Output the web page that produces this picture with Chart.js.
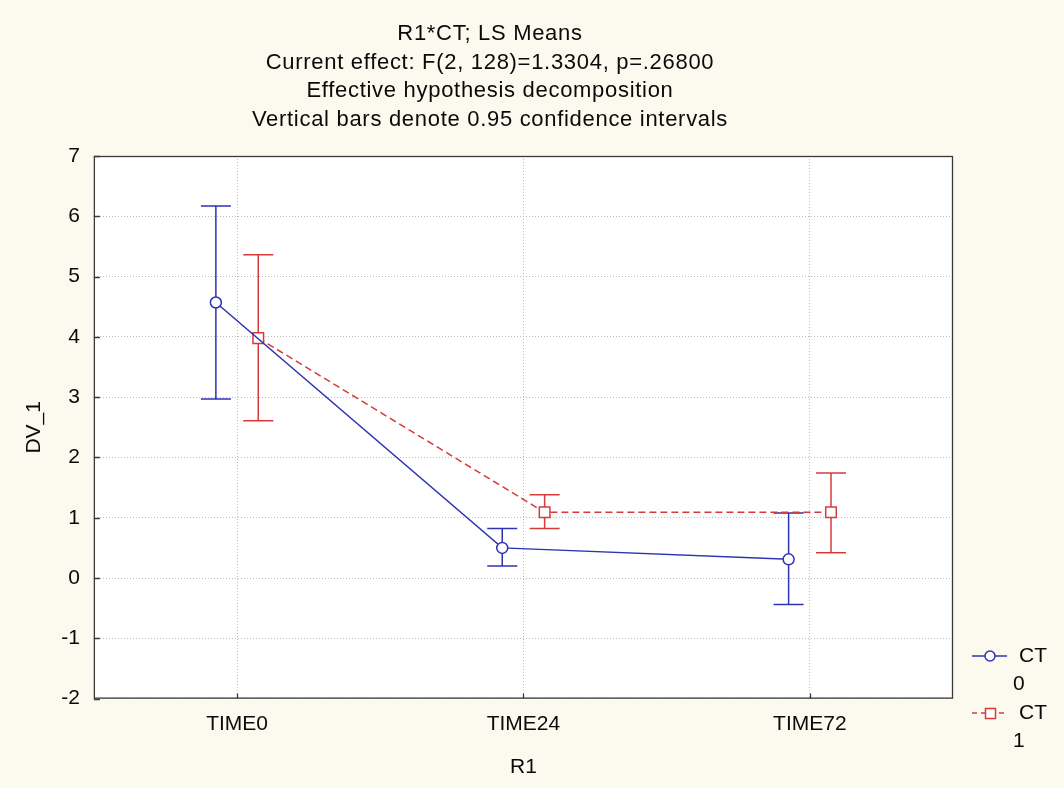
<!DOCTYPE html>
<html>
<head>
<meta charset="utf-8">
<script src="https://cdn.jsdelivr.net/npm/chart.js@4.4.1/dist/chart.umd.min.js"></script>
<style>
  html, body { margin: 0; padding: 0; background: #fcf9ee; }
  #wrap { width: 1064px; height: 788px; }
</style>
</head>
<body>
<div id="wrap"><canvas id="lsMeans" width="1064" height="788"></canvas></div>
<script>
const categories = ['TIME0', 'TIME24', 'TIME72'];
const yTicks = [-2, -1, 0, 1, 2, 3, 4, 5, 6, 7];

// CT = 0
const ct0Means = [4.57, 0.50, 0.31];
const ct0Lower = [2.97, 0.20, -0.44];
const ct0Upper = [6.17, 0.82, 1.08];

// CT = 1
const ct1Means = [3.98, 1.09, 1.09];
const ct1Lower = [2.61, 0.82, 0.42];
const ct1Upper = [5.36, 1.38, 1.74];

const titleLines = [
    'R1*CT; LS Means',
    'Current effect: F(2, 128)=1.3304, p=.26800',
    'Effective hypothesis decomposition',
    'Vertical bars denote 0.95 confidence intervals'
];

const BLUE = '#2c34b2';
const RED = '#d83a3a';
const FONT = "'Liberation Sans', Arial, sans-serif";
const DODGE = 0.074;

function toPoints(means, shift) {
    return means.map((m, i) => ({ x: i + shift, y: m }));
}

const datasets = [
    {
        label: 'CT 0',
        data: toPoints(ct0Means, -DODGE),
        lower: ct0Lower,
        upper: ct0Upper,
        borderColor: BLUE,
        borderWidth: 1.5,
        pointStyle: 'circle',
        pointRadius: 5.5,
        pointBackgroundColor: '#ffffff',
        pointBorderColor: BLUE,
        pointBorderWidth: 1.5,
        showLine: true,
        tension: 0
    },
    {
        label: 'CT 1',
        data: toPoints(ct1Means, DODGE),
        lower: ct1Lower,
        upper: ct1Upper,
        borderColor: RED,
        borderWidth: 1.5,
        borderDash: [7, 4],
        pointStyle: 'rect',
        pointRadius: 7.5,
        pointBackgroundColor: '#ffffff',
        pointBorderColor: RED,
        pointBorderWidth: 1.5,
        showLine: true,
        tension: 0
    }
];

// white plot area, whiskers under the markers
const plotDecor = {
    id: 'plotDecor',
    beforeDraw(chart) {
        const { ctx, chartArea: a } = chart;
        ctx.save();
        ctx.fillStyle = '#ffffff';
        ctx.fillRect(a.left, a.top, a.right - a.left, a.bottom - a.top);
        ctx.restore();
    },
    beforeDatasetsDraw(chart) {
        const { ctx, scales } = chart;
        ctx.save();
        chart.data.datasets.forEach(ds => {
            ctx.strokeStyle = ds.borderColor;
            ctx.lineWidth = 1.5;
            ctx.setLineDash([]);
            ds.data.forEach((p, i) => {
                const x = scales.x.getPixelForValue(p.x);
                const yLo = scales.y.getPixelForValue(ds.lower[i]);
                const yHi = scales.y.getPixelForValue(ds.upper[i]);
                ctx.beginPath();
                ctx.moveTo(x, yLo); ctx.lineTo(x, yHi);
                ctx.moveTo(x - 15, yLo); ctx.lineTo(x + 15, yLo);
                ctx.moveTo(x - 15, yHi); ctx.lineTo(x + 15, yHi);
                ctx.stroke();
            });
        });
        ctx.restore();
    },
    afterDraw(chart) {
        const { ctx, chartArea: a, scales } = chart;
        ctx.save();
        // frame and inner tick marks
        ctx.strokeStyle = '#3a3a3a';
        ctx.lineWidth = 1.3;
        ctx.strokeRect(a.left + 0.5, a.top + 0.5, a.right - a.left - 1, a.bottom - a.top - 1);
        ctx.beginPath();
        yTicks.forEach(v => {
            const y = Math.round(scales.y.getPixelForValue(v)) + 0.5;
            ctx.moveTo(a.left, y); ctx.lineTo(a.left + 6, y);
        });
        categories.forEach((c, i) => {
            const x = Math.round(scales.x.getPixelForValue(i)) + 0.5;
            ctx.moveTo(x, a.bottom); ctx.lineTo(x, a.bottom - 5);
        });
        ctx.stroke();

        // title block
        ctx.fillStyle = '#0a0a0a';
        ctx.font = '22px ' + FONT;
        ctx.letterSpacing = '0.7px';
        ctx.textAlign = 'center';
        ctx.textBaseline = 'middle';
        const rows = [34, 63, 91, 120];
        titleLines.forEach((t, i) => ctx.fillText(t, 490, rows[i]));
        ctx.letterSpacing = '0px';

        // legend
        ctx.lineWidth = 1.5;
        ctx.strokeStyle = BLUE;
        ctx.beginPath();
        ctx.moveTo(972, 656); ctx.lineTo(1007, 656);
        ctx.stroke();
        ctx.fillStyle = '#ffffff';
        ctx.beginPath();
        ctx.arc(990, 656, 5, 0, Math.PI * 2);
        ctx.fill(); ctx.stroke();

        ctx.strokeStyle = RED;
        ctx.setLineDash([5, 4]);
        ctx.beginPath();
        ctx.moveTo(972, 713); ctx.lineTo(1008, 713);
        ctx.stroke();
        ctx.setLineDash([]);
        ctx.fillRect(985, 708, 10, 10);
        ctx.strokeRect(985.5, 708.5, 10, 10);

        ctx.fillStyle = '#0a0a0a';
        ctx.font = '21px ' + FONT;
        ctx.textAlign = 'left';
        ctx.fillText('CT', 1019, 656);
        ctx.fillText('0', 1013, 684);
        ctx.fillText('CT', 1019, 713);
        ctx.fillText('1', 1013, 741);
        ctx.restore();
    }
};

const ctx = document.getElementById('lsMeans').getContext('2d');
new Chart(ctx, {
    type: 'scatter',
    data: { datasets: datasets },
    options: {
        responsive: false,
        animation: false,
        layout: { padding: { left: 7, top: 156, right: 111, bottom: 8 } },
        plugins: {
            legend: { display: false },
            title: { display: false },
            tooltip: { enabled: false }
        },
        scales: {
            x: {
                type: 'linear',
                min: -0.5,
                max: 2.5,
                afterBuildTicks(scale) {
                    scale.ticks = categories.map((c, i) => ({ value: i }));
                },
                ticks: {
                    color: '#0a0a0a',
                    font: { family: FONT, size: 21 },
                    padding: 13,
                    callback: v => categories[v]
                },
                grid: {
                    color: '#bdbdbd',
                    lineWidth: 1,
                    drawTicks: false
                },
                border: { display: false, dash: [1, 2] },
                title: {
                    display: true,
                    text: 'R1',
                    color: '#0a0a0a',
                    font: { family: FONT, size: 21 },
                    padding: { top: 5, bottom: 0 }
                }
            },
            y: {
                min: -2,
                max: 7,
                afterBuildTicks(scale) {
                    scale.ticks = yTicks.map(v => ({ value: v }));
                },
                ticks: {
                    color: '#0a0a0a',
                    font: { family: FONT, size: 21 },
                    padding: 14
                },
                grid: {
                    color: '#bdbdbd',
                    lineWidth: 1,
                    drawTicks: false
                },
                border: { display: false, dash: [1, 2] },
                title: {
                    display: true,
                    text: 'DV_1',
                    color: '#0a0a0a',
                    font: { family: FONT, size: 21 },
                    padding: { top: 15, bottom: 0 }
                }
            }
        }
    },
    plugins: [plotDecor]
});
</script>
</body>
</html>
